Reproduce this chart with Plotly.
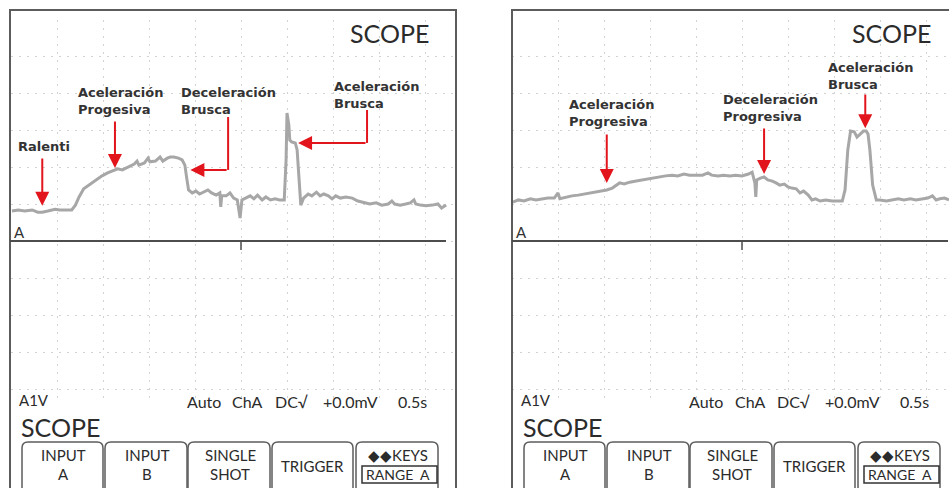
import plotly.graph_objects as go

W, H = 949, 488

# ---------------- data (time in s, 0.5 s/div ; voltage in V, 1 V/div) ----------------
t_left = [0.01,0.08,0.15,0.23,0.29,0.34,0.40,0.48,0.53,0.60,
          0.66,0.70,0.74,0.79,0.86,0.92,0.99,1.05,1.12,1.16,
          1.21,1.25,1.29,1.34,1.37,1.39,1.45,1.49,1.51,1.57,
          1.62,1.65,1.70,1.73,1.77,1.82,1.86,1.89,1.91,1.93,
          1.97,2.01,2.05,2.10,2.14,2.18,2.23,2.27,2.28,2.29,
          2.34,2.38,2.42,2.46,2.49,2.51,2.55,2.60,2.64,2.68,
          2.73,2.77,2.82,2.87,2.92,2.97,2.99,3.00,3.02,3.03,
          3.05,3.09,3.11,3.13,3.15,3.18,3.23,3.27,3.32,3.36,
          3.40,3.45,3.49,3.53,3.58,3.64,3.71,3.77,3.84,3.90,
          3.97,4.03,4.10,4.14,4.17,4.23,4.29,4.34,4.38,4.40,
          4.45,4.51,4.58,4.64,4.68,4.73]
v_left = [0.81,0.84,0.81,0.84,0.78,0.78,0.81,0.86,0.84,0.84,
          0.84,0.97,1.19,1.41,1.54,1.65,1.76,1.84,1.92,1.95,
          1.92,1.97,2.00,2.08,2.16,2.05,2.11,2.24,2.14,2.16,
          2.27,2.16,2.24,2.27,2.27,2.24,2.19,2.05,1.70,1.38,
          1.30,1.35,1.27,1.32,1.38,1.30,1.24,1.30,0.92,1.22,
          1.22,1.30,1.16,1.11,0.62,1.11,1.16,1.22,1.14,1.24,
          1.11,1.19,1.11,1.14,1.11,1.11,2.19,3.46,3.14,2.73,
          2.68,2.65,2.46,1.65,0.97,1.16,1.27,1.22,1.32,1.22,
          1.27,1.22,1.14,1.22,1.16,1.19,1.16,1.08,1.03,1.00,
          1.03,0.97,1.00,1.08,1.00,0.97,1.00,1.03,1.11,1.00,
          0.97,0.95,0.97,1.00,0.89,0.97]

t_right = [0.01,0.07,0.13,0.20,0.26,0.33,0.39,0.46,0.50,0.52,
           0.59,0.65,0.72,0.78,0.85,0.91,0.98,1.03,1.09,1.13,
           1.17,1.22,1.28,1.35,1.41,1.48,1.54,1.61,1.67,1.74,
           1.80,1.87,1.93,2.00,2.07,2.13,2.17,2.24,2.30,2.37,
           2.43,2.50,2.57,2.61,2.64,2.65,2.66,2.70,2.74,2.78,
           2.83,2.87,2.91,2.96,3.00,3.04,3.09,3.13,3.17,3.22,
           3.26,3.30,3.35,3.41,3.48,3.54,3.59,3.62,3.65,3.68,
           3.72,3.75,3.78,3.82,3.85,3.87,3.89,3.92,3.96,4.00,
           4.07,4.13,4.20,4.26,4.33,4.39,4.46,4.52,4.57,4.61,
           4.65,4.70,4.75]
v_right = [1.05,1.11,1.08,1.14,1.11,1.14,1.16,1.16,1.30,1.14,
           1.19,1.22,1.24,1.27,1.30,1.32,1.35,1.38,1.43,1.49,
           1.57,1.54,1.59,1.62,1.65,1.68,1.70,1.73,1.76,1.78,
           1.76,1.81,1.78,1.78,1.78,1.84,1.78,1.76,1.78,1.76,
           1.78,1.76,1.81,1.86,1.57,1.19,1.65,1.70,1.73,1.65,
           1.62,1.57,1.51,1.54,1.46,1.43,1.41,1.30,1.35,1.24,
           1.11,1.14,1.08,1.11,1.08,1.08,1.08,1.38,2.46,2.97,
           2.95,2.81,2.89,2.97,2.97,2.89,2.46,1.51,1.11,1.11,
           1.08,1.11,1.14,1.11,1.14,1.11,1.14,1.16,1.22,1.11,
           1.14,1.16,1.11]

# annotations: label, arrow x (s), arrow tip V, arrow tail V, corner-to-tip x (s) or None
left_labels = ["Ralenti", "Aceleración<br>Progesiva", "Deceleración<br>Brusca", "Aceleración<br>Brusca"]
left_arrow_t = [0.34, 1.13, 2.36, 3.87]
left_arrow_tip_v = [0.95, 1.97, 1.92, 2.65]
left_arrow_tail_v = [2.27, 3.27, 3.35, 3.54]
left_arrow_tip_t = [None, None, 1.95, 3.12]

right_labels = ["Aceleración<br>Progresiva", "Deceleración<br>Progresiva", "Aceleración<br>Brusca"]
right_arrow_t = [1.03, 2.74, 3.84]
right_arrow_tip_v = [1.57, 1.81, 3.05]
right_arrow_tail_v = [2.92, 3.08, 4.00]

status_words = ["Auto", "ChA", "DC\u221a", "+0.0mV", "0.5s"]
soft_keys = [["INPUT", "A"], ["INPUT", "B"], ["SINGLE", "SHOT"], ["TRIGGER"], ["\u25c6\u25c6KEYS", "RANGE  A"]]

# ---------------- layout helpers (pixel -> paper) ----------------
def px(x):
    return x / W

def py(y):
    return 1 - y / H

LCD = "Lato, Roboto, sans-serif"
LBL = "DejaVu Sans, Verdana, sans-serif"
INK = "#2b2b2b"
FRAME = "#5c5c5c"
RED = "#e2141c"
TRACE = "#a7a7a7"

fig = go.Figure()
fig.add_trace(go.Scatter(x=t_left, y=v_left, mode="lines", xaxis="x", yaxis="y",
                         line=dict(color=TRACE, width=3), hoverinfo="skip", showlegend=False))
fig.add_trace(go.Scatter(x=t_right, y=v_right, mode="lines", xaxis="x2", yaxis="y2",
                         line=dict(color=TRACE, width=3), hoverinfo="skip", showlegend=False))

grid = dict(showgrid=True, gridcolor="#d2d2d2", gridwidth=1, griddash="2px,6px",
            zeroline=False, showticklabels=False, ticks="", showline=False, fixedrange=True)
# vertical: y px 20..398 ; V = (241 - y)/37
y_dom = [py(398), py(20)]
y_rng = [(241 - 398) / 37, (241 - 20) / 37]

fig.update_layout(
    width=W, height=H, autosize=False,
    margin=dict(l=0, r=0, t=0, b=0),
    paper_bgcolor="white", plot_bgcolor="rgba(0,0,0,0)",
    xaxis=dict(domain=[px(11), px(456)], range=[0, 445 / 92], dtick=0.5, tick0=0, anchor="y", **grid),
    yaxis=dict(domain=y_dom, range=y_rng, dtick=1, tick0=0, anchor="x", **grid),
    xaxis2=dict(domain=[px(512), 1], range=[0, 437 / 92], dtick=0.5, tick0=0, anchor="y2", **grid),
    yaxis2=dict(domain=y_dom, range=y_rng, dtick=1, tick0=0, anchor="x2", **grid),
)

shapes = []
annos = []

for off, xa, ya in [(0, "x", "y"), (502, "x2", "y2")]:
    # screen frame
    shapes.append(dict(type="rect", xref="paper", yref="paper",
                       x0=px(10 + off), x1=px(456 + off) if off == 0 else 1.02,
                       y0=-0.05, y1=py(10), line=dict(color=FRAME, width=2)))
    # baseline and center tick
    shapes.append(dict(type="line", xref="paper", yref=ya, x0=px(10 + off), x1=px(446 + off),
                       y0=0, y1=0, line=dict(color="#4d4d4d", width=2)))
    shapes.append(dict(type="line", xref=xa, yref="paper", x0=2.5, x1=2.5,
                       y0=py(241), y1=py(250), line=dict(color="#4d4d4d", width=1.5)))
    # SCOPE title top-right
    annos.append(dict(text="SCOPE", x=px(431 + off), y=py(33), xref="paper", yref="paper",
                      xanchor="right", yanchor="middle", showarrow=False,
                      font=dict(family=LCD, size=25, color=INK)))
    annos.append(dict(text="A", x=px(12 + off), y=py(232), xref="paper", yref="paper",
                      xanchor="left", yanchor="middle", showarrow=False,
                      font=dict(family=LCD, size=15, color="#333")))
    # status line
    annos.append(dict(text="A1V", x=px(17 + off), y=py(400), xref="paper", yref="paper",
                      xanchor="left", yanchor="middle", showarrow=False,
                      font=dict(family=LCD, size=15, color=INK)))
    for word, cx in zip(status_words, [204, 248, 291, 350, 412]):
        annos.append(dict(text=word, x=px(cx + off), y=py(401), xref="paper", yref="paper",
                          xanchor="center", yanchor="middle", showarrow=False,
                          font=dict(family=LCD, size=16, color=INK)))
    annos.append(dict(text="SCOPE", x=px(19 + off), y=py(427), xref="paper", yref="paper",
                      xanchor="left", yanchor="middle", showarrow=False,
                      font=dict(family=LCD, size=25, color=INK)))
    # soft keys (tabs)
    tabs = [(22, 103), (105, 187), (188, 270), (272, 353), (356, 438)]
    for (a, b), lines in zip(tabs, soft_keys):
        a += off
        b += off
        r = 6
        path = (f"M {px(a)},{py(495)} L {px(a)},{py(442 + r)} "
                f"Q {px(a)},{py(442)} {px(a + r)},{py(442)} "
                f"L {px(b - r)},{py(442)} Q {px(b)},{py(442)} {px(b)},{py(442 + r)} "
                f"L {px(b)},{py(495)}")
        shapes.append(dict(type="path", xref="paper", yref="paper", path=path,
                           line=dict(color=FRAME, width=1.5)))
        cx = (a + b) / 2
        if len(lines) == 1:
            annos.append(dict(text=lines[0], x=px(cx), y=py(466), xref="paper", yref="paper",
                              xanchor="center", yanchor="middle", showarrow=False,
                              font=dict(family=LCD, size=15, color=INK)))
        else:
            for ln, yy in zip(lines, [455, 474]):
                annos.append(dict(text=ln, x=px(cx + 1), y=py(yy), xref="paper", yref="paper",
                                  xanchor="center", yanchor="middle", showarrow=False,
                                  font=dict(family=LCD, size=15 if "RANGE" not in ln else 14, color=INK)))
    # RANGE A box
    shapes.append(dict(type="rect", xref="paper", yref="paper", x0=px(362 + off), x1=px(437 + off),
                       y0=py(483), y1=py(466), line=dict(color="#333", width=1.5)))

# labels (text positions in pixels of the photo)
lbl_font = dict(family=LBL, size=13, color="#333333")
left_lbl_pos = [(16, 146), (76, 101), (179, 101), (332, 95)]
for txt, (lx, ly) in zip(left_labels, left_lbl_pos):
    annos.append(dict(text="<b>" + txt + "</b>", x=px(lx), y=py(ly), xref="paper", yref="paper",
                      xanchor="left", yanchor="middle", align="left", showarrow=False, font=lbl_font))
right_lbl_pos = [(567, 113), (721, 108), (826, 76)]
for txt, (lx, ly) in zip(right_labels, right_lbl_pos):
    annos.append(dict(text="<b>" + txt + "</b>", x=px(lx), y=py(ly), xref="paper", yref="paper",
                      xanchor="left", yanchor="middle", align="left", showarrow=False, font=lbl_font))

arrow_style = dict(showarrow=True, arrowhead=2, arrowsize=1.4, arrowwidth=2, arrowcolor=RED, text="")

for t, vt, vtail, ttip in zip(left_arrow_t, left_arrow_tip_v, left_arrow_tail_v, left_arrow_tip_t):
    if ttip is None:
        annos.append(dict(x=t, y=vt, ax=t, ay=vtail, xref="x", yref="y", axref="x", ayref="y", **arrow_style))
    else:
        shapes.append(dict(type="line", xref="x", yref="y", x0=t, x1=t, y0=vtail, y1=vt,
                           line=dict(color=RED, width=2)))
        annos.append(dict(x=ttip, y=vt, ax=t, ay=vt, xref="x", yref="y", axref="x", ayref="y", **arrow_style))

for t, vt, vtail in zip(right_arrow_t, right_arrow_tip_v, right_arrow_tail_v):
    annos.append(dict(x=t, y=vt, ax=t, ay=vtail, xref="x2", yref="y2", axref="x2", ayref="y2", **arrow_style))

fig.update_layout(shapes=shapes, annotations=annos)
fig.write_html("out.html", config={"displayModeBar": False},
               post_script="document.body.style.margin='0px';document.body.style.overflow='hidden';")
